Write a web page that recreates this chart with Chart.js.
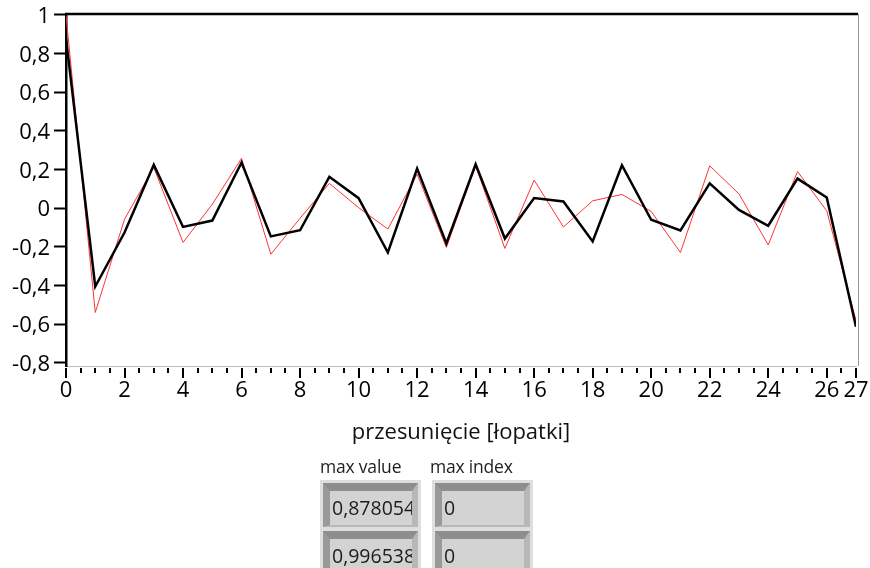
<!DOCTYPE html>
<html>
<head>
<meta charset="utf-8">
<script src="https://cdn.jsdelivr.net/npm/chart.js@4/dist/chart.umd.min.js"></script>
<style>
  html, body { margin: 0; padding: 0; background: #fff; }
  #wrap { position: relative; width: 870px; height: 568px; overflow: hidden; font-family: "Open Sans", sans-serif; }
  #wrap canvas { position: absolute; left: 0; top: 0; }
  .cap { position: absolute; top: 454px; font-size: 17.5px; line-height: 24px; color: #1e1e1e; white-space: nowrap; letter-spacing: -0.2px; }
  .cell { position: absolute; box-sizing: border-box; width: 101px; height: 48px; padding: 3px 3px 1px 3px; background: #dedede; }
  .field { box-sizing: border-box; height: 100%; border-style: solid; border-width: 8px 6px 2px 7px;
           border-color: #8e8e8e #b8b8b8 #b8b8b8 #999; background: #d3d3d3; overflow: hidden; white-space: nowrap;
           font-size: 19.5px; line-height: 34px; padding-left: 2px; color: #1c1c1c; }
</style>
</head>
<body>
<div id="wrap">
  <canvas id="c" width="870" height="568"></canvas>
  <div class="cap" style="left:320px">max value</div>
  <div class="cap" style="left:430px">max index</div>
  <div id="cells"></div>
</div>
<script>
// blade shift (x axis)
const shifts = [0,1,2,3,4,5,6,7,8,9,10,11,12,13,14,15,16,17,18,19,20,21,22,23,24,25,26,27];

// correlation curves
const seriesBlack = [0.878054, -0.405, -0.126, 0.224, -0.097, -0.064, 0.236, -0.146, -0.114, 0.162,
                     0.052, -0.229, 0.205, -0.182, 0.227, -0.157, 0.052, 0.035, -0.172, 0.222,
                     -0.060, -0.115, 0.128, -0.009, -0.091, 0.153, 0.055, -0.613];
const seriesRed   = [0.996538, -0.539, -0.057, 0.210, -0.177, 0.020, 0.258, -0.238, -0.052, 0.128,
                     0.003, -0.108, 0.176, -0.203, 0.218, -0.208, 0.145, -0.097, 0.038, 0.071,
                     -0.017, -0.229, 0.219, 0.074, -0.190, 0.190, -0.014, -0.580];

// axis ticks
const yTickValues = [1, 0.8, 0.6, 0.4, 0.2, 0, -0.2, -0.4, -0.6, -0.8];
const xLabelValues = [0, 2, 4, 6, 8, 10, 12, 14, 16, 18, 20, 22, 24, 26, 27];
const xMinorStep = 0.5;

const FONT = "'Open Sans', sans-serif";
const comma = v => String(Math.round(v * 10) / 10).replace('.', ',');

const toPoints = vals => shifts.map((s, i) => ({ x: s, y: vals[i] }));

// frame around the plot and the x-axis tick marks
const framePlugin = {
  id: 'frame',
  afterDraw(chart) {
    const { ctx, chartArea: a, scales: { x } } = chart;
    ctx.save();
    ctx.strokeStyle = '#000';
    ctx.lineWidth = 2;
    const last = shifts[shifts.length - 1];
    for (let v = 0; v <= last + 1e-9; v += xMinorStep) {
      const major = xLabelValues.includes(v);
      const px = Math.round(x.getPixelForValue(v));
      ctx.beginPath();
      ctx.moveTo(px, a.bottom + 2);
      ctx.lineTo(px, a.bottom + (major ? 12 : 7));
      ctx.stroke();
    }
    // top edge
    ctx.lineWidth = 2.5;
    ctx.beginPath();
    ctx.moveTo(a.left - 1, a.top);
    ctx.lineTo(a.right + 2, a.top);
    ctx.stroke();
    // right edge
    ctx.strokeStyle = '#9a9a9a';
    ctx.lineWidth = 1;
    ctx.beginPath();
    ctx.moveTo(a.right + 2.5, a.top);
    ctx.lineTo(a.right + 2.5, a.bottom);
    ctx.stroke();
    ctx.restore();
  }
};

new Chart(document.getElementById('c'), {
  type: 'line',
  data: {
    datasets: [
      { label: 'A', data: toPoints(seriesBlack), borderColor: '#000', borderWidth: 2.5,
        pointRadius: 0, tension: 0, order: 0 },
      { label: 'B', data: toPoints(seriesRed), borderColor: '#f33', borderWidth: 1,
        pointRadius: 0, tension: 0, order: 1 }
    ]
  },
  options: {
    responsive: false,
    animation: false,
    layout: { padding: { left: 0, right: 14, top: 14, bottom: 0 } },
    plugins: { legend: { display: false }, tooltip: { enabled: false } },
    scales: {
      x: {
        type: 'linear', min: 0, max: 27,
        afterBuildTicks: s => { s.ticks = xLabelValues.map(v => ({ value: v })); },
        afterFit: s => { s.height = 202; s.paddingLeft = 0; s.paddingRight = 0; },
        ticks: { autoSkip: false, maxRotation: 0, padding: 12, color: '#000',
                 font: { family: FONT, size: 22 }, callback: v => String(v) },
        grid: { display: true, drawOnChartArea: false, drawTicks: false },
        border: { color: '#bdbdbd', width: 1 },
        title: { display: true, text: 'przesunięcie [łopatki]', color: '#111',
                 font: { family: FONT, size: 22 }, padding: { top: 0, bottom: 122 } }
      },
      y: {
        type: 'linear', min: -0.816, max: 1.004,
        afterBuildTicks: s => { s.ticks = yTickValues.map(v => ({ value: v })); },
        afterFit: s => { s.width = 66; s.paddingTop = 0; s.paddingBottom = 0; },
        ticks: { padding: 4, labelOffset: 2, color: '#000', font: { family: FONT, size: 22 },
                 callback: v => comma(v) },
        grid: { drawOnChartArea: false, tickLength: 12, tickWidth: 2, tickColor: '#000' },
        border: { color: '#000', width: 2.5 }
      }
    }
  },
  plugins: [framePlugin]
});

// max value / max index indicators, one row per curve
const cells = document.getElementById('cells');
[seriesBlack, seriesRed].forEach((vals, row) => {
  const maxVal = Math.max(...vals);
  const maxIdx = vals.indexOf(maxVal);
  const top = 480 + row * 48;
  [[320, maxVal.toFixed(6).replace('.', ',')], [432, String(shifts[maxIdx])]].forEach(([left, text]) => {
    const cell = document.createElement('div');
    cell.className = 'cell';
    cell.style.left = left + 'px';
    cell.style.top = top + 'px';
    const f = document.createElement('div');
    f.className = 'field';
    f.textContent = text;
    cell.appendChild(f);
    cells.appendChild(cell);
  });
});
</script>
</body>
</html>
